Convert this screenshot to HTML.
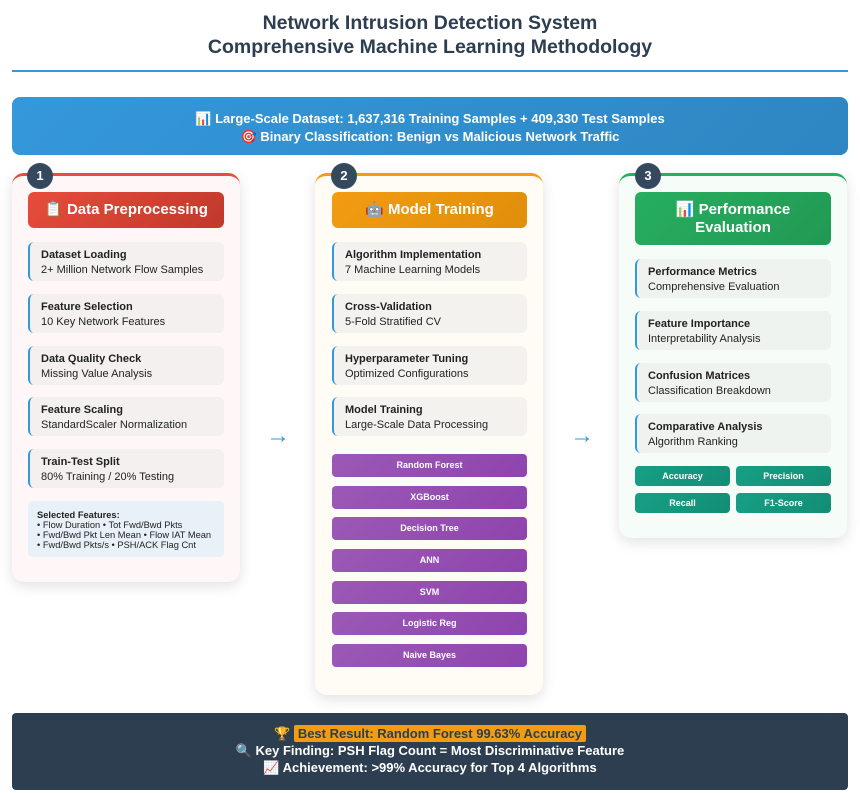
<!DOCTYPE html>
<html><head><meta charset="utf-8"><style>
*{box-sizing:border-box;margin:0;padding:0}
body{width:860px;height:793px;background:#fff;position:relative;overflow:hidden;font-family:"Liberation Sans","DejaVu Sans",sans-serif;color:#222}
.a{position:absolute}
.title{left:0;width:860px;text-align:center;font-weight:bold;font-size:19.5px;color:#2c3e50;line-height:24px}
.col{border-radius:12px;box-shadow:0 4px 14px rgba(0,0,0,.12)}
.badge{width:26px;height:26px;border-radius:50%;background:#34495e;color:#fff;font-weight:bold;font-size:13px;text-align:center;line-height:26px}
.hdr{border-radius:6px;color:#fff;font-weight:bold;font-size:15px;text-align:center;display:flex;align-items:center;justify-content:center;line-height:18px}
.item{height:39px;border-radius:6px;border-left:2px solid #3498db;padding:6px 0 0 11px;font-size:11px;line-height:15px}
.item b{display:block}
.pb{height:23px;border-radius:4px;background:linear-gradient(135deg,#9b59b6,#8e44ad);color:#fff;font-weight:bold;font-size:9px;text-align:center;line-height:23px}
.mb{height:20px;width:95px;border-radius:4px;background:linear-gradient(135deg,#16a085,#138d75);color:#fff;font-weight:bold;font-size:9px;text-align:center;line-height:20px}
.arrow{color:#3498db;font-size:24px;line-height:24px}
</style></head><body>
<div class="a title" style="top:11px">Network Intrusion Detection System</div>
<div class="a title" style="top:35px">Comprehensive Machine Learning Methodology</div>
<div class="a" style="left:12px;top:70px;width:836px;height:2px;background:#3498db"></div>

<div class="a" style="left:12px;top:97px;width:836px;height:58px;border-radius:8px;background:linear-gradient(135deg,#3498db,#2e86c1);color:#fff;font-weight:bold;font-size:13px;text-align:center;padding-top:13px;line-height:18px">📊 Large-Scale Dataset: 1,637,316 Training Samples + 409,330 Test Samples<br>🎯 Binary Classification: Benign vs Malicious Network Traffic</div>

<!-- Column 1 -->
<div class="a col" style="left:12px;top:173px;width:228px;height:409px;background:#fff7f7;border-top:3px solid #e74c3c"></div>
<div class="a badge" style="left:27px;top:163px">1</div>
<div class="a hdr" style="left:28px;top:192px;width:196px;height:36px;background:linear-gradient(135deg,#e74c3c,#c0392b)">📋 Data Preprocessing</div>
<div class="a item" style="left:28px;top:242px;width:196px;background:#f4f0f0"><b>Dataset Loading</b>2+ Million Network Flow Samples</div>
<div class="a item" style="left:28px;top:294px;width:196px;background:#f4f0f0"><b>Feature Selection</b>10 Key Network Features</div>
<div class="a item" style="left:28px;top:346px;width:196px;background:#f4f0f0"><b>Data Quality Check</b>Missing Value Analysis</div>
<div class="a item" style="left:28px;top:397px;width:196px;background:#f4f0f0"><b>Feature Scaling</b>StandardScaler Normalization</div>
<div class="a item" style="left:28px;top:449px;width:196px;background:#f4f0f0"><b>Train-Test Split</b>80% Training / 20% Testing</div>
<div class="a" style="left:28px;top:501px;width:196px;height:56px;border-radius:5px;background:#e8f0f8;font-size:9.3px;line-height:10px;padding:9px 0 0 9px;color:#222"><b>Selected Features:</b><br>• Flow Duration • Tot Fwd/Bwd Pkts<br>• Fwd/Bwd Pkt Len Mean • Flow IAT Mean<br>• Fwd/Bwd Pkts/s • PSH/ACK Flag Cnt</div>

<div class="a arrow" style="left:266px;top:424px">→</div>

<!-- Column 2 -->
<div class="a col" style="left:315px;top:173px;width:228px;height:522px;background:#fffcf6;border-top:3px solid #f39c12"></div>
<div class="a badge" style="left:331px;top:163px">2</div>
<div class="a hdr" style="left:332px;top:192px;width:195px;height:36px;background:linear-gradient(135deg,#f39c12,#e08e0b)">🤖 Model Training</div>
<div class="a item" style="left:332px;top:242px;width:195px;background:#f4f2ee"><b>Algorithm Implementation</b>7 Machine Learning Models</div>
<div class="a item" style="left:332px;top:294px;width:195px;background:#f4f2ee"><b>Cross-Validation</b>5-Fold Stratified CV</div>
<div class="a item" style="left:332px;top:346px;width:195px;background:#f4f2ee"><b>Hyperparameter Tuning</b>Optimized Configurations</div>
<div class="a item" style="left:332px;top:397px;width:195px;background:#f4f2ee"><b>Model Training</b>Large-Scale Data Processing</div>
<div class="a pb" style="left:332px;top:454px;width:195px">Random Forest</div>
<div class="a pb" style="left:332px;top:486px;width:195px">XGBoost</div>
<div class="a pb" style="left:332px;top:517px;width:195px">Decision Tree</div>
<div class="a pb" style="left:332px;top:549px;width:195px">ANN</div>
<div class="a pb" style="left:332px;top:581px;width:195px">SVM</div>
<div class="a pb" style="left:332px;top:612px;width:195px">Logistic Reg</div>
<div class="a pb" style="left:332px;top:644px;width:195px">Naive Bayes</div>

<div class="a arrow" style="left:570px;top:424px">→</div>

<!-- Column 3 -->
<div class="a col" style="left:619px;top:173px;width:228px;height:365px;background:#f6fcf8;border-top:3px solid #27ae60"></div>
<div class="a badge" style="left:635px;top:163px">3</div>
<div class="a hdr" style="left:635px;top:192px;width:196px;height:53px;background:linear-gradient(135deg,#27ae60,#229954)">📊 Performance<br>Evaluation</div>
<div class="a item" style="left:635px;top:259px;width:196px;background:#eef3f0"><b>Performance Metrics</b>Comprehensive Evaluation</div>
<div class="a item" style="left:635px;top:311px;width:196px;background:#eef3f0"><b>Feature Importance</b>Interpretability Analysis</div>
<div class="a item" style="left:635px;top:363px;width:196px;background:#eef3f0"><b>Confusion Matrices</b>Classification Breakdown</div>
<div class="a item" style="left:635px;top:414px;width:196px;background:#eef3f0"><b>Comparative Analysis</b>Algorithm Ranking</div>
<div class="a mb" style="left:635px;top:466px">Accuracy</div>
<div class="a mb" style="left:736px;top:466px">Precision</div>
<div class="a mb" style="left:635px;top:493px">Recall</div>
<div class="a mb" style="left:736px;top:493px">F1-Score</div>

<!-- Bottom -->
<div class="a" style="left:12px;top:713px;width:836px;height:77px;background:#2c3e50;border-radius:4px;color:#fff;font-weight:bold;font-size:13px;text-align:center;line-height:17px;padding-top:12px">🏆 <span style="background:#f39c12;color:#2c3e50;padding:1px 4px;border-radius:2px">Best Result: Random Forest 99.63% Accuracy</span><br>🔍 Key Finding: PSH Flag Count = Most Discriminative Feature<br>📈 Achievement: &gt;99% Accuracy for Top 4 Algorithms</div>
</body></html>
